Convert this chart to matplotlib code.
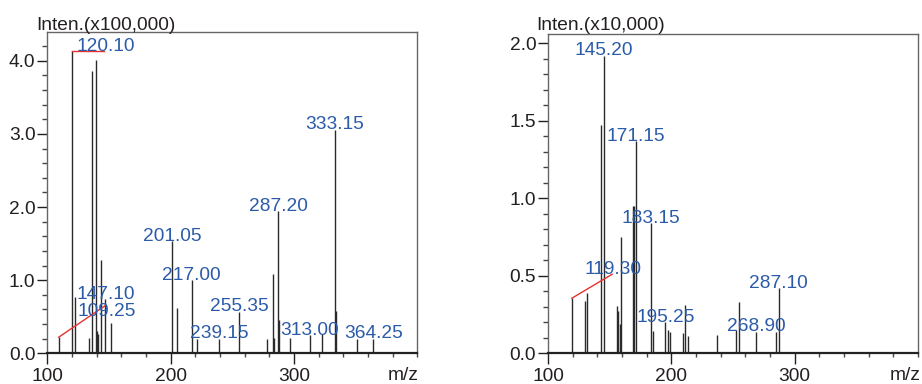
import matplotlib
matplotlib.use("Agg")
import matplotlib.pyplot as plt
import matplotlib.transforms as mtransforms
from matplotlib.ticker import MultipleLocator, FixedLocator, FormatStrFormatter

plt.rcParams["font.family"] = ["Liberation Sans", "DejaVu Sans"]

# left spectrum, intensity in units of 100,000
mz_a = [109.25, 120.10, 122.2, 134.0, 136.3, 139.2, 140.1, 140.9, 143.2,
        147.10, 151.3, 201.05, 205.1, 217.00, 221.0, 239.15, 255.35, 278.5,
        282.8, 283.8, 287.20, 288.0, 297.1, 313.00, 323.0, 333.15, 333.9,
        351.0, 364.25]
int_a = [0.22, 4.13, 0.77, 0.21, 3.86, 4.01, 0.31, 0.26, 1.27,
         0.74, 0.41, 1.53, 0.62, 1.00, 0.20, 0.20, 0.57, 0.20,
         1.08, 0.21, 1.94, 0.46, 0.21, 0.25, 0.27, 3.06, 0.58,
         0.20, 0.20]
labels_a = ["109.25", "120.10", "147.10", "201.05", "217.00", "239.15",
            "255.35", "287.20", "313.00", "333.15", "364.25"]

# right spectrum, intensity in units of 10,000
mz_b = [119.30, 130.0, 131.6, 143.2, 145.20, 155.9, 157.0, 158.1, 159.5,
        169.0, 169.8, 171.15, 183.15, 185.1, 195.25, 197.3, 199.2, 209.2,
        210.8, 213.2, 237.0, 252.7, 254.6, 268.90, 285.1, 287.10]
int_b = [0.355, 0.34, 0.39, 1.47, 1.92, 0.305, 0.27, 0.19, 0.75,
         0.95, 0.95, 1.37, 0.84, 0.146, 0.20, 0.15, 0.135, 0.133,
         0.31, 0.11, 0.12, 0.15, 0.33, 0.14, 0.135, 0.42]
labels_b = ["119.30", "145.20", "171.15", "183.15", "195.25", "268.90",
            "287.10"]

x_ticks = [100, 200, 300]

# labels moved away from their peak: text anchor, leader end
moved_a = {"120.10": ((147, 4.13), (146, 4.13)),
           "109.25": ((148, 0.51), (146.8, 0.65))}
moved_b = {"119.30": ((153, 0.51), (152, 0.51))}

BLUE = "#2b5ba8"
RED = "#e8312f"
INK = "#231f20"
FS = 13.8


def draw(ax, mz, inten, labels, moved, ymax, major, minor):
    ax.vlines(mz, 0, inten, color="#2a2a2a", lw=1.0)
    off = mtransforms.offset_copy(ax.transData, fig=ax.figure, y=0.3, units="points")
    for lab in labels:
        i = [f"{m:.2f}" for m in mz].index(lab)
        x, y = mz[i], inten[i]
        if lab in moved:
            (tx, ty), (lx, ly) = moved[lab]
            ax.plot([x, lx], [y, ly], color=RED, lw=1.0)
        else:
            tx, ty = x, y
        ax.text(tx, ty, lab, color=BLUE, fontsize=FS, ha="center",
                va="baseline", transform=off)

    ax.set_xlim(100, 400)
    ax.set_ylim(0, ymax)
    ax.xaxis.set_major_locator(FixedLocator(x_ticks))
    ax.xaxis.set_minor_locator(MultipleLocator(20))
    ax.yaxis.set_major_locator(MultipleLocator(major))
    ax.yaxis.set_minor_locator(MultipleLocator(minor))
    ax.yaxis.set_major_formatter(FormatStrFormatter("%.1f"))
    ax.tick_params(axis="x", which="major", length=8, width=1, pad=2.5,
                   labelsize=FS, colors=INK, direction="out")
    ax.tick_params(axis="x", which="minor", length=3, width=1,
                   color="#444", direction="out")
    ax.tick_params(axis="y", which="major", length=7.5, width=1, pad=1,
                   labelsize=FS, colors=INK, direction="out")
    ax.tick_params(axis="y", which="minor", length=3.5, width=1,
                   color="#444", direction="out")
    for side in ["top", "right", "left"]:
        ax.spines[side].set_color("#666666")
        ax.spines[side].set_linewidth(1.0)
    ax.spines["bottom"].set_color("#222222")
    ax.spines["bottom"].set_linewidth(1.6)


W, H = 922, 384
fig = plt.figure(figsize=(W / 100, H / 100), dpi=100)
ax1 = fig.add_axes([47.3 / W, 1 - 353.3 / H, 370 / W, 321 / H])
ax2 = fig.add_axes([548 / W, 1 - 353.3 / H, 370 / W, 319.3 / H])

draw(ax1, mz_a, int_a, labels_a, moved_a, 4.39, 1.0, 0.2)
draw(ax2, mz_b, int_b, labels_b, moved_b, 2.06, 0.5, 0.1)

fig.text(36 / W, 1 - 29.5 / H, "Inten.(x100,000)", fontsize=FS, color=INK,
         va="baseline", ha="left")
fig.text(536 / W, 1 - 29.5 / H, "Inten.(x10,000)", fontsize=FS, color=INK,
         va="baseline", ha="left")
fig.text(419 / W, 1 - 380.5 / H, "m/z", fontsize=FS, color=INK,
         va="baseline", ha="right")
fig.text(921 / W, 1 - 380.5 / H, "m/z", fontsize=FS, color=INK,
         va="baseline", ha="right")

fig.savefig("out.png", dpi=100)
